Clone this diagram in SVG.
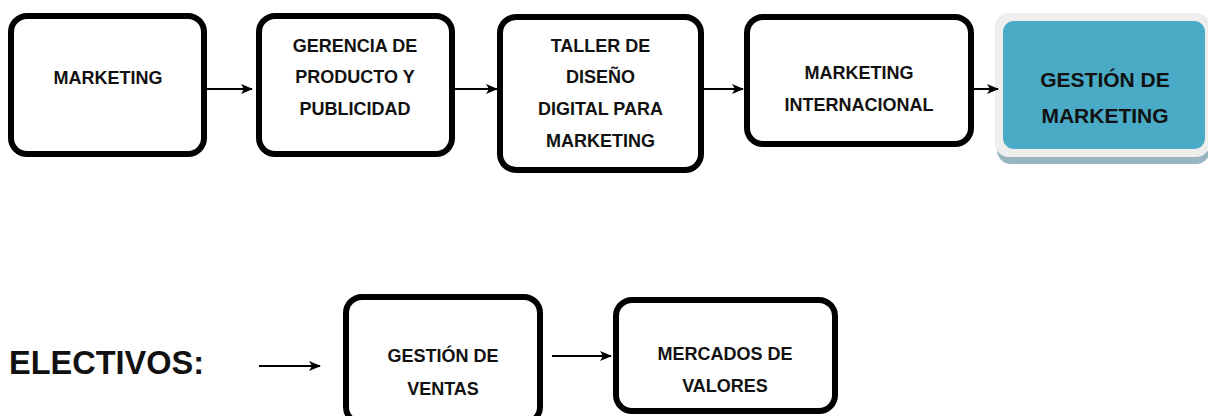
<svg xmlns="http://www.w3.org/2000/svg" width="1208" height="416" viewBox="0 0 1208 416">
<defs>
<marker id="ah" viewBox="0 0 12 10" refX="11" refY="5" markerWidth="12" markerHeight="10" markerUnits="userSpaceOnUse" orient="auto">
<path d="M0,0 L12,5 L0,10 L3,5 Z" fill="#000"/>
</marker>
</defs>
<style>
.box{fill:#fff;stroke:#000;stroke-width:6}
.t{font-family:"Liberation Sans",Arial,sans-serif;font-weight:bold;font-size:18px;fill:#111;text-anchor:middle}
.tb{font-size:21px}
.c{stroke:#000;stroke-width:2;fill:none;marker-end:url(#ah)}
</style>
<rect width="1208" height="416" fill="#fff"/>
<g id="n1">
<rect class="box" x="11" y="16" width="193" height="138" rx="16"/>
<text class="t" x="108" y="84">MARKETING</text>
</g>
<g id="n2">
<rect class="box" x="259" y="16" width="193" height="138" rx="16"/>
<text class="t" x="355" y="52">GERENCIA DE</text>
<text class="t" x="355" y="83">PRODUCTO Y</text>
<text class="t" x="355" y="115">PUBLICIDAD</text>
</g>
<g id="n3">
<rect class="box" x="500" y="17" width="201" height="153" rx="16"/>
<text class="t" x="600.5" y="52">TALLER DE</text>
<text class="t" x="600.5" y="83">DISEÑO</text>
<text class="t" x="600.5" y="115">DIGITAL PARA</text>
<text class="t" x="600.5" y="147">MARKETING</text>
</g>
<g id="n4">
<rect class="box" x="747" y="17" width="224" height="127" rx="16"/>
<text class="t" x="859" y="79">MARKETING</text>
<text class="t" x="859" y="111">INTERNACIONAL</text>
</g>
<g id="n5">
<rect x="997" y="20" width="213" height="144" rx="14" fill="#98b6c0"/>
<rect x="995" y="13" width="215" height="144" rx="14" fill="#eeeeee"/>
<rect x="1003" y="21" width="202" height="128" rx="11" fill="#4aabc6"/>
<text class="t tb" x="1105" y="87">GESTIÓN DE</text>
<text class="t tb" x="1105" y="123">MARKETING</text>
</g>
<g id="lbl">
<text x="9" y="374" font-family="Liberation Sans, Arial, sans-serif" font-weight="bold" font-size="32.5px" fill="#111">ELECTIVOS:</text>
</g>
<g id="n6">
<rect class="box" x="346" y="297" width="194" height="126" rx="16"/>
<text class="t" x="443" y="362">GESTIÓN DE</text>
<text class="t" x="443" y="395">VENTAS</text>
</g>
<g id="n7">
<rect class="box" x="616" y="300" width="219" height="111" rx="16"/>
<text class="t" x="725" y="360">MERCADOS DE</text>
<text class="t" x="725" y="392">VALORES</text>
</g>
<g id="connectors">
<line class="c" x1="207" y1="89" x2="252" y2="89"/>
<line class="c" x1="455" y1="89" x2="497" y2="89"/>
<line class="c" x1="704" y1="89" x2="743" y2="89"/>
<line class="c" x1="974" y1="89" x2="998" y2="89"/>
<line class="c" x1="259" y1="366" x2="320" y2="366"/>
<line class="c" x1="552" y1="356" x2="611" y2="356"/>
</g>
</svg>
